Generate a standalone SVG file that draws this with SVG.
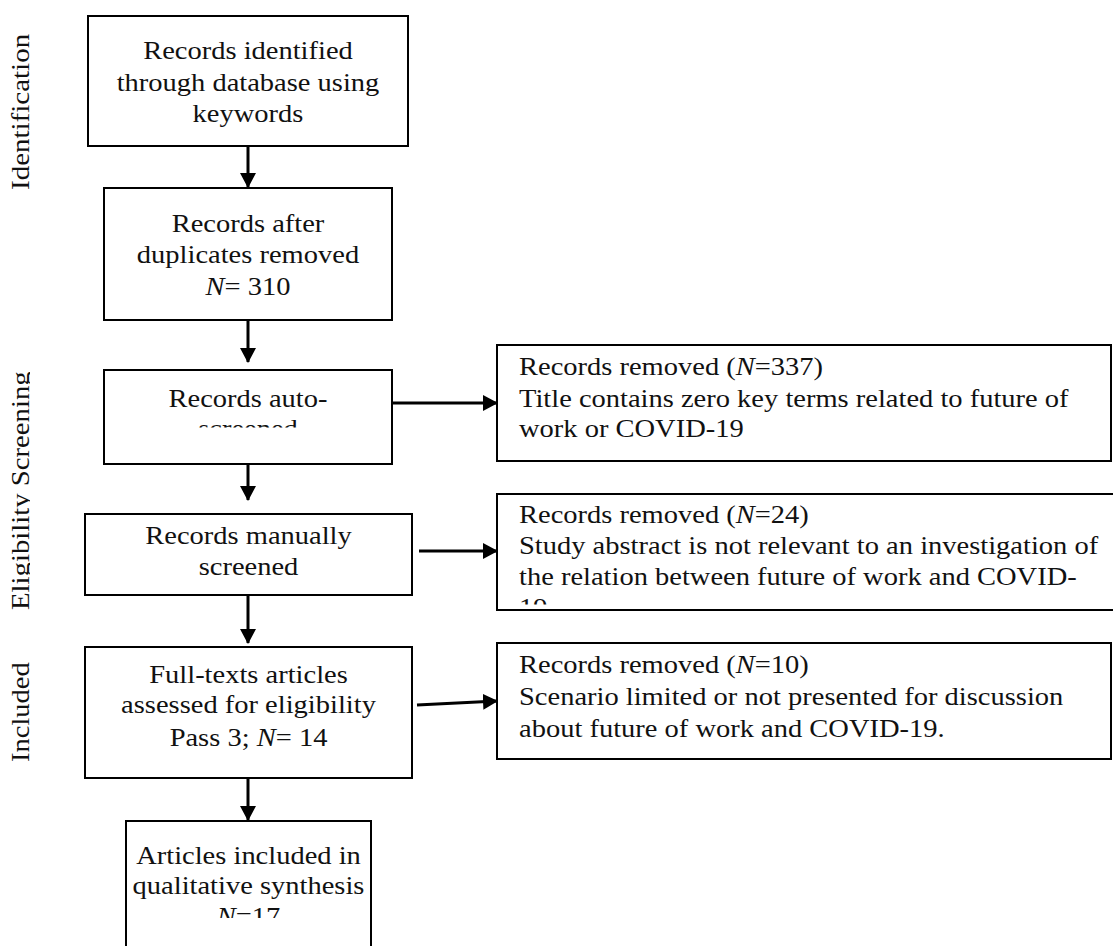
<svg xmlns="http://www.w3.org/2000/svg" width="1113" height="946" viewBox="0 0 1113 946">
<style>
.box{fill:#fff;stroke:#000;stroke-width:2}
.t{font-family:"Liberation Serif","Times New Roman",serif;font-size:25px;fill:#111}
.c{text-anchor:middle}
.conn line{stroke:#000;stroke-width:3}
</style>
<defs>
<marker id="ah" viewBox="0 0 15 16" refX="14" refY="8" markerWidth="15" markerHeight="16" markerUnits="userSpaceOnUse" orient="auto">
<path d="M0,0 L15,8 L0,16 Z" fill="#000"/>
</marker>
<clipPath id="clipSide"><rect x="0" y="0" width="30" height="946"/></clipPath>
<clipPath id="clip3"><rect x="104" y="370" width="288" height="57.5"/></clipPath>
<clipPath id="clip7"><rect x="126" y="821" width="245" height="97"/></clipPath>
<clipPath id="clipR2"><rect x="497" y="494" width="616" height="110.5"/></clipPath>
</defs>

<g id="side-labels" clip-path="url(#clipSide)">
<text class="t" transform="translate(29,190) rotate(-90) scale(1.16,1)">Identification</text>
<text class="t" transform="translate(29,610) rotate(-90) scale(1.15,1)">Eligibility Screening</text>
<text class="t" transform="translate(29,762) rotate(-90) scale(1.14,1)">Included</text>
</g>

<g id="connectors" class="conn">
<line x1="248" y1="146" x2="248" y2="187" marker-end="url(#ah)"/>
<line x1="248" y1="320" x2="248" y2="362" marker-end="url(#ah)"/>
<line x1="248" y1="464" x2="248" y2="500" marker-end="url(#ah)"/>
<line x1="248" y1="595" x2="248" y2="643" marker-end="url(#ah)"/>
<line x1="248" y1="778" x2="248" y2="820" marker-end="url(#ah)"/>
<line x1="392" y1="403" x2="497" y2="403" marker-end="url(#ah)"/>
<line x1="419" y1="551" x2="497" y2="551" marker-end="url(#ah)"/>
<line x1="417" y1="705" x2="497" y2="701" marker-end="url(#ah)"/>
</g>

<g id="n-identified">
<rect class="box" x="88" y="16" width="320" height="130"/>
<text class="t c" transform="translate(248,59) scale(1.14,1)">Records identified</text>
<text class="t c" transform="translate(248,91) scale(1.14,1)">through database using</text>
<text class="t c" transform="translate(248,122) scale(1.14,1)">keywords</text>
</g>

<g id="n-duplicates">
<rect class="box" x="104" y="188" width="288" height="132"/>
<text class="t c" transform="translate(248,232) scale(1.14,1)">Records after</text>
<text class="t c" transform="translate(248,263) scale(1.14,1)">duplicates removed</text>
<text class="t c" transform="translate(248,295) scale(1.14,1)"><tspan font-style="italic">N</tspan>= 310</text>
</g>

<g id="n-auto">
<rect class="box" x="104" y="370" width="288" height="94"/>
<g clip-path="url(#clip3)">
<text class="t c" transform="translate(248,407) scale(1.14,1)">Records auto-</text>
<text class="t c" transform="translate(248,437) scale(1.14,1)">screened</text>
</g>
</g>

<g id="n-manual">
<rect class="box" x="85" y="514" width="327" height="81"/>
<text class="t c" transform="translate(248.5,544) scale(1.14,1)">Records manually</text>
<text class="t c" transform="translate(248.5,575) scale(1.14,1)">screened</text>
</g>

<g id="n-fulltext">
<rect class="box" x="85" y="647" width="327" height="131"/>
<text class="t c" transform="translate(248.5,683) scale(1.14,1)">Full-texts articles</text>
<text class="t c" transform="translate(248.5,713) scale(1.14,1)">assessed for eligibility</text>
<text class="t c" transform="translate(248.5,746) scale(1.14,1)">Pass 3; <tspan font-style="italic">N</tspan>= 14</text>
</g>

<g id="n-included">
<rect class="box" x="126" y="821" width="245" height="140"/>
<g clip-path="url(#clip7)">
<text class="t c" transform="translate(248.5,864) scale(1.14,1)">Articles included in</text>
<text class="t c" transform="translate(248.5,894) scale(1.14,1)">qualitative synthesis</text>
<text class="t c" transform="translate(248.5,925) scale(1.14,1)"><tspan font-style="italic">N</tspan>=17</text>
</g>
</g>

<g id="n-removed1">
<rect class="box" x="497" y="345" width="614" height="116"/>
<text class="t" transform="translate(519,375) scale(1.14,1)">Records removed (<tspan font-style="italic">N</tspan>=337)</text>
<text class="t" transform="translate(519,407) scale(1.14,1)">Title contains zero key terms related to future of</text>
<text class="t" transform="translate(519,437) scale(1.14,1)">work or COVID-19</text>
</g>

<g id="n-removed2">
<rect class="box" x="497" y="494" width="618" height="116"/>
<g clip-path="url(#clipR2)">
<text class="t" transform="translate(519,523) scale(1.14,1)">Records removed (<tspan font-style="italic">N</tspan>=24)</text>
<text class="t" transform="translate(519,554) scale(1.14,1)">Study abstract is not relevant to an investigation of</text>
<text class="t" transform="translate(519,585) scale(1.14,1)">the relation between future of work and COVID-</text>
<text class="t" transform="translate(519,616) scale(1.14,1)">19</text>
</g>
</g>

<g id="n-removed3">
<rect class="box" x="497" y="643" width="614" height="116"/>
<text class="t" transform="translate(519,673) scale(1.14,1)">Records removed (<tspan font-style="italic">N</tspan>=10)</text>
<text class="t" transform="translate(519,705) scale(1.14,1)">Scenario limited or not presented for discussion</text>
<text class="t" transform="translate(519,737) scale(1.14,1)">about future of work and COVID-19.</text>
</g>
</svg>
